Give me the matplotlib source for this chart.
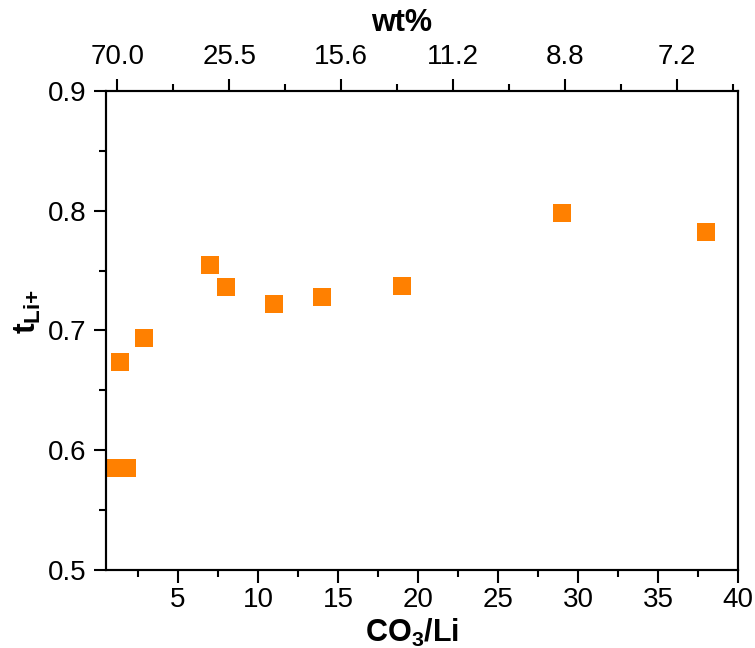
import matplotlib
matplotlib.use('Agg')
import matplotlib.pyplot as plt
from matplotlib.ticker import MultipleLocator, FixedLocator

plt.rcParams['font.family'] = ['Liberation Sans', 'DejaVu Sans']
plt.rcParams['mathtext.fontset'] = 'custom'
plt.rcParams['mathtext.rm'] = 'Liberation Sans:bold'
plt.rcParams['mathtext.bf'] = 'Liberation Sans:bold'
plt.rcParams['mathtext.it'] = 'Liberation Sans:bold'

# data
co3_li = [1.1, 1.8, 1.4, 2.9, 7.0, 8.0, 11.0, 14.0, 19.0, 29.0, 38.0]
t_li = [0.585, 0.585, 0.674, 0.694, 0.755, 0.736, 0.722, 0.728, 0.737, 0.798, 0.782]

# top axis (wt%)
wt_pos = [1.2, 8.2, 15.2, 22.2, 29.2, 36.2]
wt_labels = ['70.0', '25.5', '15.6', '11.2', '8.8', '7.2']

fig = plt.figure(figsize=(7.55, 6.48), dpi=100)
ax = fig.add_axes([106 / 755, 1 - 570 / 648, (738 - 106) / 755, (570 - 91) / 648])

ax.plot(co3_li, t_li, 's', color='#FF8000', markersize=13, markeredgewidth=0)

ax.set_xlim(0.5, 40)
ax.set_ylim(0.5, 0.9)
ax.xaxis.set_major_locator(FixedLocator([5, 10, 15, 20, 25, 30, 35, 40]))
ax.xaxis.set_minor_locator(MultipleLocator(2.5))
ax.yaxis.set_major_locator(MultipleLocator(0.1))
ax.yaxis.set_minor_locator(MultipleLocator(0.05))
ax.yaxis.set_major_formatter(plt.FormatStrFormatter('%.1f'))

for s in ax.spines.values():
    s.set_linewidth(1.5)

ax.tick_params(which='both', direction='out', width=1.5, top=False, right=False)
ax.tick_params(which='major', length=9, labelsize=20, pad=5)
ax.tick_params(axis='x', which='major', pad=3)
ax.tick_params(which='minor', length=5)

ax.set_xlabel(r'CO$_3$/Li', fontsize=22, fontweight='bold')
ax.xaxis.set_label_coords(0.484, -0.097)
ax.set_ylabel(r'$\mathbf{t}_{\mathbf{Li{+}}}$', fontsize=23)
ax.yaxis.set_label_coords(-0.1, 0.54)

ax2 = ax.twiny()
ax2.set_xlim(ax.get_xlim())
ax2.xaxis.set_major_locator(FixedLocator(wt_pos))
ax2.xaxis.set_minor_locator(FixedLocator([p + 3.5 for p in wt_pos]))
ax2.set_xticklabels(wt_labels)
ax2.tick_params(which='both', direction='out', width=1.5)
ax2.tick_params(which='major', length=9, labelsize=20, pad=6)
ax2.tick_params(which='minor', length=5)
for s in ax2.spines.values():
    s.set_linewidth(1.5)
ax2.set_xlabel('wt%', fontsize=22, fontweight='bold')
ax2.xaxis.set_label_coords(0.467, 1.125)

fig.savefig('out.png', dpi=100)
